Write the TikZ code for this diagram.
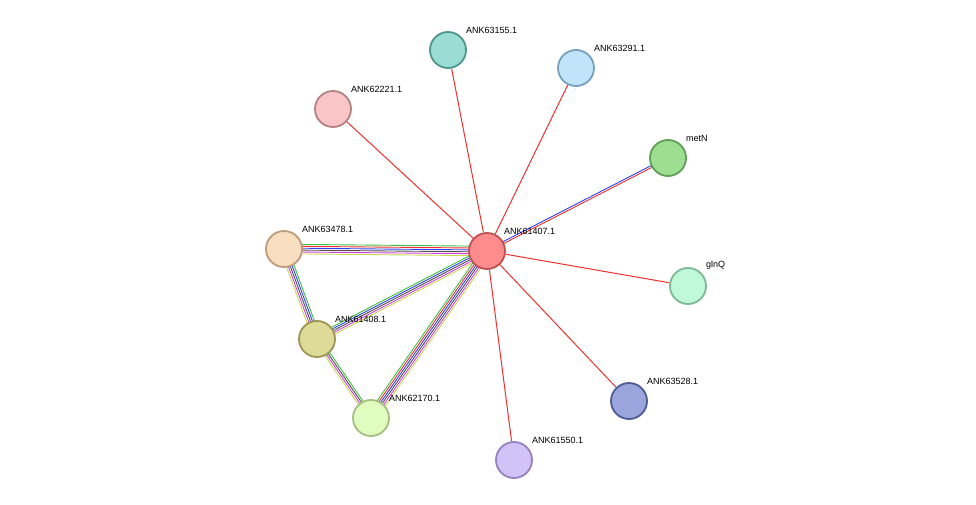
\documentclass[tikz,border=0pt]{standalone}
\usepackage{fontspec}
\setmainfont{Liberation Sans}
\usetikzlibrary{calc,backgrounds}
\definecolor{ey}{HTML}{C8D850}
\definecolor{em}{HTML}{D040D8}
\definecolor{eg}{HTML}{505050}
\definecolor{eb}{HTML}{3040F0}
\definecolor{er}{HTML}{F03030}
\definecolor{en}{HTML}{40C040}
\tikzset{prot/.style={circle,minimum size=36pt,inner sep=0pt,line width=1.8pt},
 lab/.style={font=\fontsize{9}{10}\selectfont,anchor=south west,inner sep=1pt},
 red edge/.style={draw=er,line width=1pt}}
\newcommand{\medge}[4]{% a b n colors
 \foreach \c [count=\i] in {#4}{
  \pgfmathsetmacro{\o}{(\i-(#3+1)/2)*1.9}
  \draw[\c,line width=0.9pt] ($(#1)!\o pt!90:(#2)$) -- ($(#2)!\o pt!-90:(#1)$);
 }}
\begin{document}
\begin{tikzpicture}[x=1pt,y=-1pt]
\useasboundingbox (0,0) rectangle (976,505);
\node[prot,fill={rgb,255:red,255;green,140;blue,140},draw={rgb,255:red,190;green,80;blue,80}] (c) at (487,251) {};
\node[prot,fill={rgb,255:red,153;green,221;blue,213},draw={rgb,255:red,80;green,150;blue,140}] (a1) at (448,50) {};
\node[prot,fill={rgb,255:red,192;green,229;blue,250},draw={rgb,255:red,120;green,160;blue,190}] (a2) at (576,68) {};
\node[prot,fill={rgb,255:red,249;green,197;blue,198},draw={rgb,255:red,180;green,130;blue,130}] (a3) at (333,109) {};
\node[prot,fill={rgb,255:red,158;green,222;blue,146},draw={rgb,255:red,95;green,160;blue,85}] (a4) at (668,158) {};
\node[prot,fill={rgb,255:red,192;green,249;blue,218},draw={rgb,255:red,125;green,185;blue,150}] (a5) at (688,286) {};
\node[prot,fill={rgb,255:red,154;green,165;blue,222},draw={rgb,255:red,80;green,90;blue,150}] (a6) at (629,401) {};
\node[prot,fill={rgb,255:red,210;green,194;blue,248},draw={rgb,255:red,150;green,130;blue,190}] (a7) at (514,460) {};
\node[prot,fill={rgb,255:red,224;green,252;blue,190},draw={rgb,255:red,165;green,190;blue,130}] (a8) at (371,418) {};
\node[prot,fill={rgb,255:red,222;green,219;blue,152},draw={rgb,255:red,155;green,150;blue,85}] (a9) at (317,339) {};
\node[prot,fill={rgb,255:red,250;green,222;blue,192},draw={rgb,255:red,190;green,155;blue,125}] (a10) at (284,249) {};
\node[lab] at (503,236) {ANK61407.1};
\node[lab] at (465,35) {ANK63155.1};
\node[lab] at (593,53) {ANK63291.1};
\node[lab] at (350,94) {ANK62221.1};
\node[lab] at (685,143) {metN};
\node[lab] at (705,271) {glnQ};
\node[lab] at (646,386) {ANK63528.1};
\node[lab] at (531,445) {ANK61550.1};
\node[lab] at (388,403) {ANK62170.1};
\node[lab] at (334,324) {ANK61408.1};
\node[lab] at (301,234) {ANK63478.1};
\begin{pgfonlayer}{background}
\foreach \n in {a1,a2,a3,a5,a6,a7} \draw[red edge] (c) -- (\n);
\medge{c}{a4}{2}{er,eb}
\medge{a10}{c}{6}{ey,em,eg,eb,er,en}
\medge{a9}{c}{5}{ey,em,eg,eb,en}
\medge{a8}{c}{6}{ey,em,eg,eb,er,en}
\medge{a9}{a10}{5}{en,eb,eg,em,ey}
\medge{a8}{a9}{4}{en,eg,em,ey}
\end{pgfonlayer}
\end{tikzpicture}
\end{document}
